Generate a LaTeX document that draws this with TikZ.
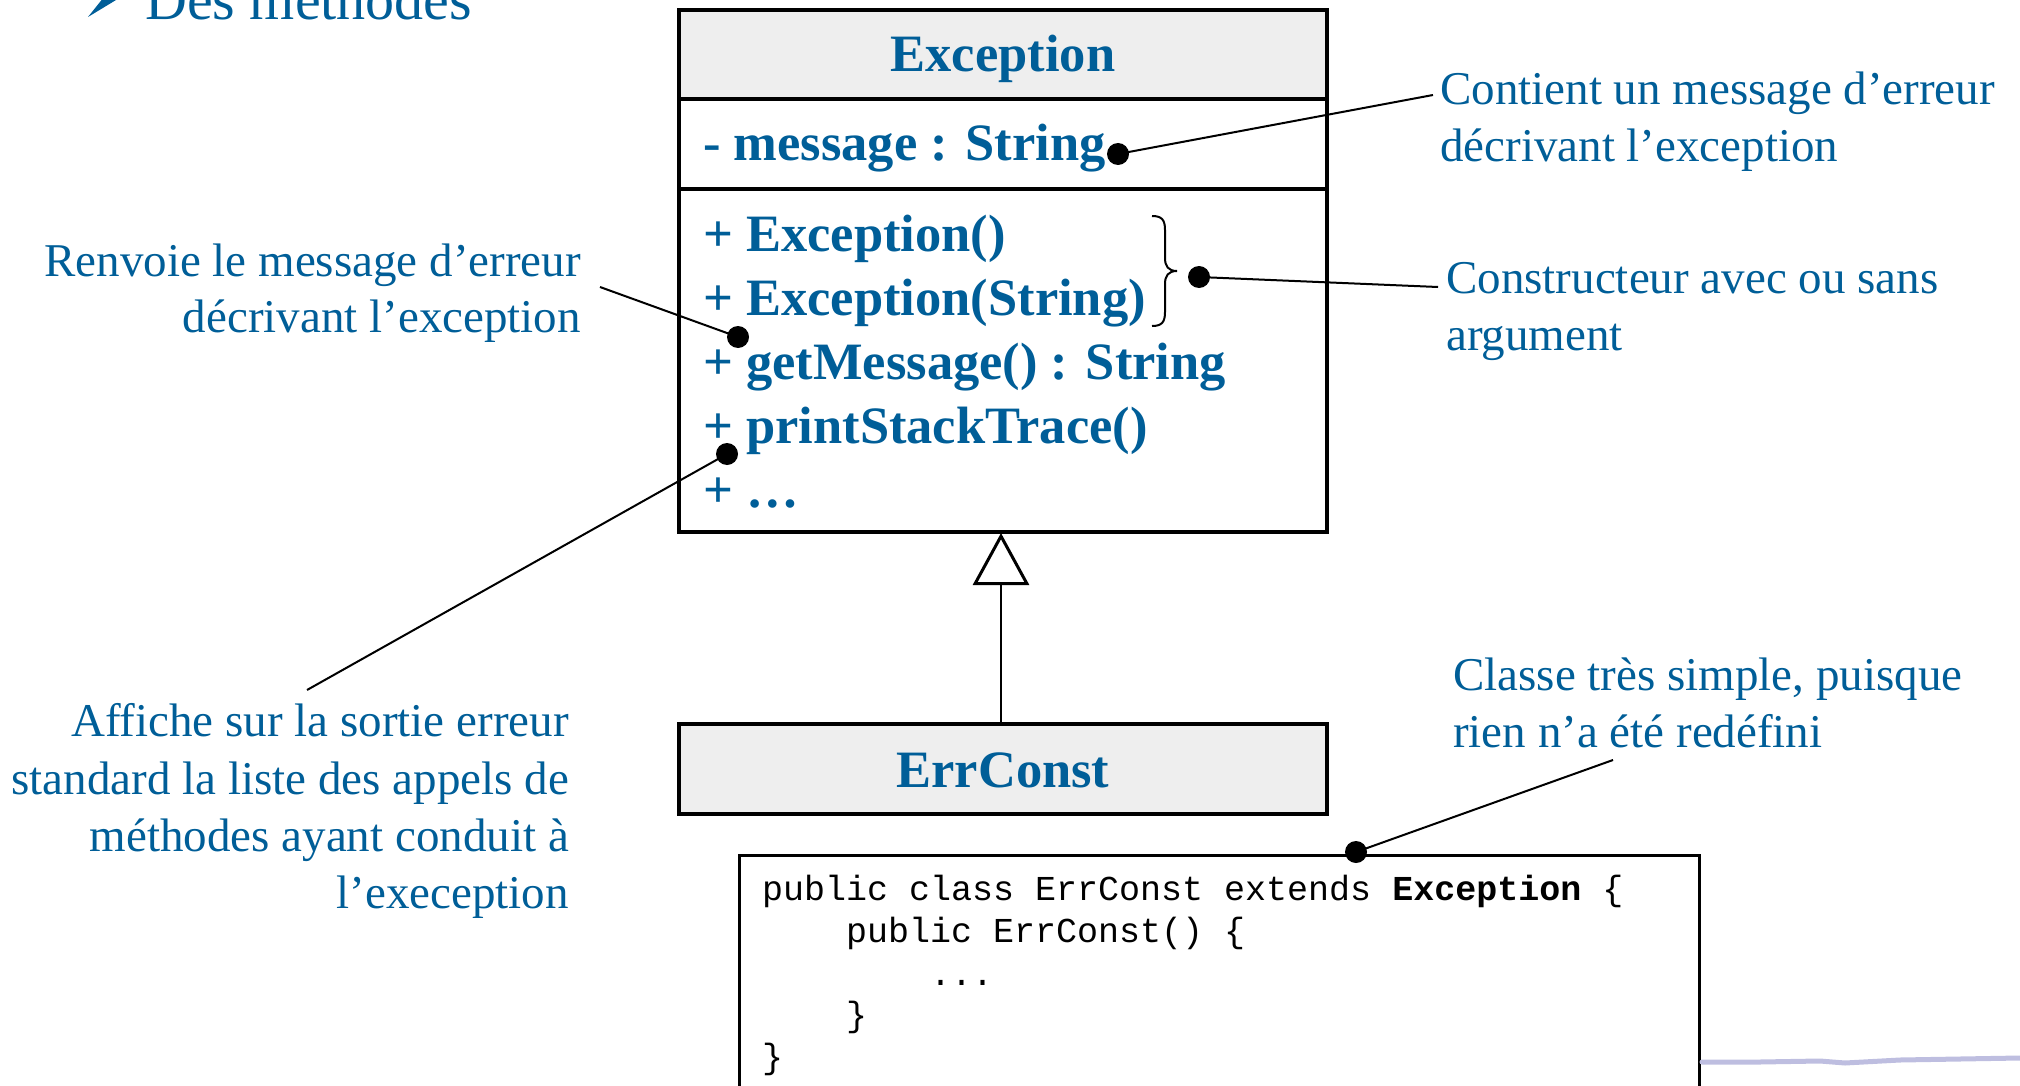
\documentclass[tikz,border=0pt]{standalone}
\usepackage{fontspec}
\setmainfont{Liberation Serif}
\setmonofont{Liberation Mono}
\usetikzlibrary{arrows.meta}
\definecolor{ublue}{RGB}{0,94,152}
\definecolor{hdr}{RGB}{238,238,238}
\definecolor{smear}{RGB}{190,190,224}
\newcommand\annfont{\fontsize{47}{57}\selectfont}
\newcommand\umlfont{\fontsize{52.5}{63}\selectfont\bfseries}
\newcommand\codefont{\fontsize{35}{41}\selectfont\ttfamily}
\newcommand\bigfont{\fontsize{58}{66}\selectfont}
\tikzset{
  ann/.style={text=ublue, font=\annfont, inner sep=0pt},
  uml/.style={text=ublue, font=\umlfont, inner sep=0pt},
  codeline/.style={text=black, font=\codefont, inner sep=0pt},
  dotmark/.style={circle, fill=black, minimum size=22pt, inner sep=0pt},
  conn/.style={line width=2pt},
  boxline/.style={line width=4pt},
}
\begin{document}
\begin{tikzpicture}[x=1pt,y=-1pt]
\useasboundingbox (0,0) rectangle (2020,1086);
% heading
\fill[ublue] (88,17) -- (104,-3) -- (121,-3) -- cycle;
\node[text=ublue, font=\bigfont, inner sep=0pt, anchor=base west] (head) at (145,20) {Des méthodes};

% Exception class
\fill[hdr] (679,10) rectangle (1327,99);
\node[draw, boxline, minimum width=648pt, minimum height=522pt, inner sep=0pt, outer sep=0pt, anchor=north west] (exc) at (679,10) {};
\draw[boxline] (679,99) -- (1327,99);
\draw[boxline] (679,189) -- (1327,189);
\node[uml, anchor=base] (exctitle) at (1003,72) {Exception};
\node[uml, anchor=base west] (attr) at (703,161) {- message : String};
\node[uml, anchor=base west] (m1) at (703,251) {+ Exception()};
\node[uml, anchor=base west] (m2) at (703,315) {+ Exception(String)};
\node[uml, anchor=base west] (m3) at (703,379) {+ getMessage() : String};
\node[uml, anchor=base west] (m4) at (703,443) {+ printStackTrace()};
\node[uml, anchor=base west] (m5) at (703,507) {+ \dots};

% brace
\draw[line width=2pt] (1152,216) .. controls (1162,216) and (1165,220) .. (1165,230) -- (1165,258) .. controls (1165,266) and (1168,271) .. (1177,271) .. controls (1168,271) and (1165,276) .. (1165,284) -- (1165,312) .. controls (1165,322) and (1162,326) .. (1152,326);

% ErrConst class
\node[draw, boxline, fill=hdr, minimum width=648pt, minimum height=90pt, inner sep=0pt, outer sep=0pt, anchor=north west] (err) at (679,724) {};
\node[uml, anchor=base] (errtitle) at (1003,787) {ErrConst};

% inheritance
\coordinate (errtop) at (1001,724);
\coordinate (excbot) at (1001,533);
\draw[line width=2.5pt, -{Triangle[length=52pt,width=56pt,fill=white,line width=3pt]}] (errtop) -- (excbot);

% code box
\node[draw, line width=3pt, minimum width=960pt, minimum height=260pt, inner sep=0pt, outer sep=0pt, anchor=north west] (codebox) at (739,855) {};
\node[codeline, anchor=base west] (c1) at (762,900) {public class ErrConst extends \textbf{Exception} \{};
\node[codeline, anchor=base west] (c2) at (846,942) {public ErrConst() \{};
\node[codeline, anchor=base west] (c3) at (930,985) {...};
\node[codeline, anchor=base west] (c4) at (846,1026) {\}};
\node[codeline, anchor=base west] (c5) at (762,1068) {\}};

% smear
\draw[line width=5pt, smear, line cap=round] (1702,1062) -- (1760,1062) -- (1820,1061) -- (1845,1063) -- (1900,1060) -- (1960,1059) -- (2020,1058);

% annotations
\node[ann, anchor=base west] (a1) at (1440,105) {Contient un message d’erreur};
\node[ann, anchor=base west] (a2) at (1440,162) {décrivant l’exception};
\node[ann, anchor=base west] (b1) at (1446,293) {Constructeur avec ou sans};
\node[ann, anchor=base west] (b2) at (1446,350) {argument};
\node[ann, anchor=base east] (r1) at (581,276) {Renvoie le message d’erreur};
\node[ann, anchor=base east] (r2) at (581,332) {décrivant l’exception};
\node[ann, anchor=base east] (f1) at (569,736) {Affiche sur la sortie erreur};
\node[ann, anchor=base east] (f2) at (569,794) {standard la liste des appels de};
\node[ann, anchor=base east] (f3) at (569,851) {méthodes ayant conduit à};
\node[ann, anchor=base east] (f4) at (569,908) {l’exeception};
\node[ann, anchor=base west] (k1) at (1453,690) {Classe très simple, puisque};
\node[ann, anchor=base west] (k2) at (1453,747) {rien n’a été redéfini};

% dots and connectors
\node[dotmark] (dmsg) at (1118,154) {};
\node[dotmark] (dcons) at (1199,277) {};
\node[dotmark] (dget) at (738,337) {};
\node[dotmark] (dprint) at (727,454) {};
\node[dotmark] (dcode) at (1356,852) {};
\coordinate (cmsg) at (1433,95);
\coordinate (ccons) at (1438,287);
\coordinate (cget) at (600,287);
\coordinate (cprint) at (307,690);
\coordinate (ccode) at (1613,760);
\draw[conn] (dmsg.center) -- (cmsg);
\draw[conn] (dcons.center) -- (ccons);
\draw[conn] (dget.center) -- (cget);
\draw[conn] (dprint.center) -- (cprint);
\draw[conn] (dcode.center) -- (ccode);
\end{tikzpicture}
\end{document}
